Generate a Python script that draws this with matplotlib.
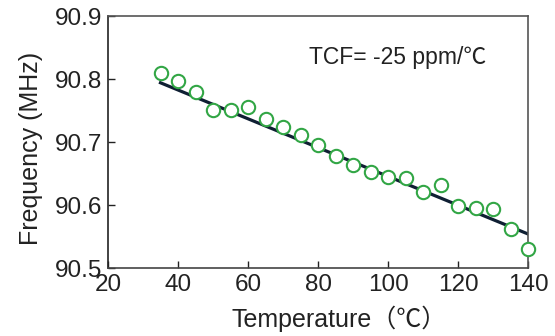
import matplotlib
matplotlib.use("Agg")
import matplotlib.pyplot as plt

temperature = [35, 40, 45, 50, 55, 60, 65, 70, 75, 80, 85, 90, 95, 100,
               105, 110, 115, 120, 125, 130, 135, 140]
frequency = [90.810, 90.797, 90.780, 90.751, 90.751, 90.756, 90.737, 90.724,
             90.711, 90.695, 90.678, 90.663, 90.652, 90.644, 90.643, 90.621,
             90.632, 90.598, 90.596, 90.594, 90.562, 90.530]
fit_x = [35, 140]
fit_y = [90.794, 90.554]
x_ticks = [20, 40, 60, 80, 100, 120, 140]
y_ticks = [90.5, 90.6, 90.7, 90.8, 90.9]

plt.rcParams['font.family'] = ['Liberation Sans', 'Noto Sans CJK SC', 'DejaVu Sans']

fig = plt.figure(figsize=(5.55, 3.36), dpi=100)
ax = fig.add_axes([108/555, 1-268/336, 420/555, 252/336])

ax.plot(fit_x, fit_y, color='#0f1f33', lw=2.3, zorder=2)
ax.plot(temperature, frequency, 'o', ms=9.6, mfc='white', mec='#32a645',
        mew=1.5, zorder=3, clip_on=False)

ax.set_xlim(20, 140)
ax.set_ylim(90.5, 90.9)
ax.set_xticks(x_ticks)
ax.set_yticks(y_ticks)
ax.set_xticklabels([str(v) for v in x_ticks])
ax.set_yticklabels([f"{v:.1f}" for v in y_ticks])
ax.tick_params(direction='in', length=5, width=1, labelsize=17.5,
               colors='#222222', top=False, right=False)
ax.tick_params(axis='x', pad=4)
ax.tick_params(axis='y', pad=4)
for s in ax.spines.values():
    s.set_color('#555555')
    s.set_linewidth(1.2)
ax.spines['left'].set_color('#222222')
ax.spines['bottom'].set_color('#444444')

ax.set_xlabel('Temperature（℃）', fontsize=18, color='#222222', labelpad=7)
ax.set_ylabel('Frequency (MHz)', fontsize=18, color='#222222', labelpad=9)
ax.xaxis.label.set_x(0.551)
ax.yaxis.label.set_y(0.476)

ax.text(77.5, 90.834, 'TCF= -25 ppm/℃', fontsize=16.5, color='#222222',
        va='center', ha='left')

fig.savefig('out.png', dpi=100)
